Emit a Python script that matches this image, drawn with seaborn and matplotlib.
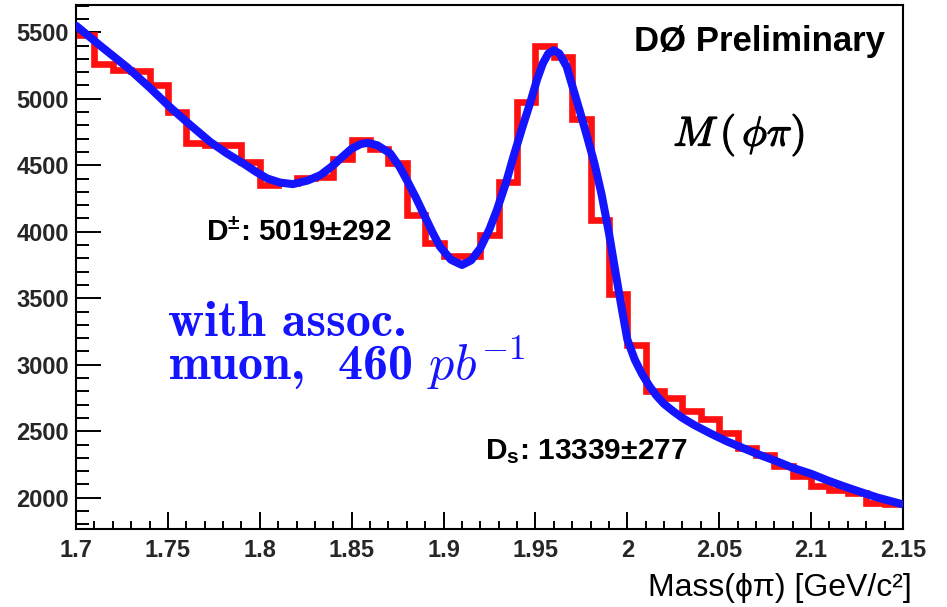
import numpy as np
import pandas as pd
import matplotlib
matplotlib.use("Agg")
import matplotlib.pyplot as plt
import matplotlib.patheffects as pe
from matplotlib.ticker import MultipleLocator, FixedLocator, FixedFormatter
import seaborn as sns

# Histogram of phi-pi invariant mass, 0.01 GeV bins from 1.70 to 2.15
mass_lo, mass_hi, bin_w = 1.70, 2.15, 0.01
counts = [5480, 5265, 5220, 5205, 5100, 4900, 4665, 4655, 4650, 4525,
          4350, 4365, 4405, 4410, 4550, 4690, 4625, 4520, 4125, 3915,
          3820, 3815, 3975, 4375, 4975, 5400, 5315, 4850, 4085, 3530,
          3145, 2800, 2750, 2650, 2590, 2485, 2375, 2325, 2235, 2160,
          2085, 2060, 2035, 1960, 1955]

# Fitted curve (two signal peaks on a smooth background)
fit_mass = [1.700, 1.714, 1.728, 1.740, 1.751, 1.762, 1.773, 1.782, 1.791, 1.798,
            1.804, 1.811, 1.818, 1.826, 1.833, 1.840, 1.845, 1.850, 1.855, 1.859,
            1.864, 1.871, 1.876, 1.880, 1.885, 1.889, 1.894, 1.898, 1.904, 1.910,
            1.915, 1.920, 1.925, 1.929, 1.934, 1.938, 1.943, 1.947, 1.951, 1.954,
            1.957, 1.960, 1.963, 1.967, 1.970, 1.974, 1.978, 1.982, 1.986, 1.990,
            1.994, 1.997, 2.000, 2.004, 2.008, 2.012, 2.016, 2.020, 2.025, 2.030,
            2.036, 2.045, 2.054, 2.063, 2.072, 2.0815, 2.090, 2.100, 2.109, 2.118,
            2.127, 2.136, 2.150]
fit_value = [5550, 5390, 5235, 5085, 4939, 4805, 4676, 4590, 4514, 4450,
             4401, 4370, 4358, 4385, 4426, 4500, 4564, 4625, 4660, 4668,
             4650, 4589, 4490, 4389, 4255, 4139, 3995, 3889, 3790, 3750,
             3785, 3876, 4020, 4163, 4370, 4564, 4790, 4964, 5150, 5265,
             5340, 5365, 5340, 5241, 5100, 4914, 4720, 4520, 4280, 3990,
             3660, 3420, 3190, 3040, 2930, 2840, 2765, 2705, 2650, 2600,
             2550, 2485, 2425, 2373, 2322, 2273, 2225, 2180, 2130, 2085,
             2043, 2002, 1950]

x_ticks = [1.70, 1.75, 1.80, 1.85, 1.90, 1.95, 2.00, 2.05, 2.10, 2.15]
x_tick_labels = ["1.7", "1.75", "1.8", "1.85", "1.9", "1.95", "2", "2.05", "2.1", "2.15"]
y_ticks = [2000, 2500, 3000, 3500, 4000, 4500, 5000, 5500]

sns.set_theme(style="ticks")
plt.rcParams["font.family"] = ["Liberation Sans", "DejaVu Sans"]
plt.rcParams["mathtext.fontset"] = "custom"
plt.rcParams["mathtext.rm"] = "Liberation Sans:bold"
plt.rcParams["mathtext.bf"] = "Liberation Sans:bold"
plt.rcParams["mathtext.it"] = "Liberation Sans:bold"

W, H = 947, 607
fig = plt.figure(figsize=(W / 100, H / 100), dpi=100)
ax = fig.add_axes([76 / W, 78 / H, 827 / W, 524 / H])

edges = np.linspace(mass_lo, mass_hi, len(counts) + 1).tolist()
hist_df = pd.DataFrame({"mass": [(a + b) / 2 for a, b in zip(edges[:-1], edges[1:])],
                        "count": counts})
fit_df = pd.DataFrame({"mass": fit_mass, "value": fit_value})

red = "#ff1010"
blue = "#1414ff"

sns.histplot(data=hist_df, x="mass", weights="count", bins=edges, element="step",
             fill=False, color=red, linewidth=4.8, solid_joinstyle="miter",
             ax=ax, zorder=2)
sns.lineplot(data=fit_df, x="mass", y="value", sort=False, color=blue,
             linewidth=5.8, ax=ax, zorder=3)

ax.set_xlim(mass_lo, mass_hi)
ax.set_ylim(1765, 5705)
ax.set_xlabel("")
ax.set_ylabel("")

ax.xaxis.set_major_locator(FixedLocator(x_ticks))
ax.xaxis.set_major_formatter(FixedFormatter(x_tick_labels))
ax.xaxis.set_minor_locator(MultipleLocator(0.01))
ax.yaxis.set_major_locator(FixedLocator(y_ticks))
ax.yaxis.set_minor_locator(MultipleLocator(100))

ax.tick_params(axis="x", which="major", direction="in", length=12, width=1.4,
               labelsize=17, pad=7, color="black")
ax.tick_params(axis="x", which="minor", direction="in", length=6, width=1.4, color="black")
ax.tick_params(axis="y", which="major", direction="in", length=18, width=1.4,
               labelsize=17, pad=5, color="black")
ax.tick_params(axis="y", which="minor", direction="in", length=9.5, width=1.4, color="black")
for lab in ax.get_xticklabels() + ax.get_yticklabels():
    lab.set_fontweight("bold")

for side in ["left", "right", "top", "bottom"]:
    ax.spines[side].set_visible(True)
    ax.spines[side].set_color("black")
    ax.spines[side].set_linewidth(1.5)

# Labels and annotations
fig.text(885 / W, 1 - 42 / H, "DØ Preliminary", ha="right", va="center",
         fontsize=25, fontweight="bold", color="black")
fig.text(739 / W, 1 - 135 / H, r"$M\,(\,\phi\pi)$", ha="center", va="center",
         fontsize=30, math_fontfamily="cm", color="black",
         path_effects=[pe.withStroke(linewidth=0.9, foreground="black")])
fig.text(206 / W, 1 - 232 / H, r"D$^{\pm}$: 5019±292", ha="left", va="center",
         fontsize=21.5, fontweight="bold", color="black")
fig.text(485 / W, 1 - 452 / H, r"D$_{s}$: 13339±277", ha="left", va="center",
         fontsize=21.5, fontweight="bold", color="black")
fig.text(168 / W, 1 - 380 / H, "with assoc.\nmuon,  460 $pb^{-1}$", ha="left",
         va="baseline", fontsize=36, family="cmb10", math_fontfamily="cm",
         linespacing=0.76, color=blue)
fig.text(912 / W, 1 - 596 / H, "Mass(ϕπ) [GeV/c²]", ha="right", va="baseline",
         fontsize=23, color="black")

fig.savefig("out.png", dpi=100)
